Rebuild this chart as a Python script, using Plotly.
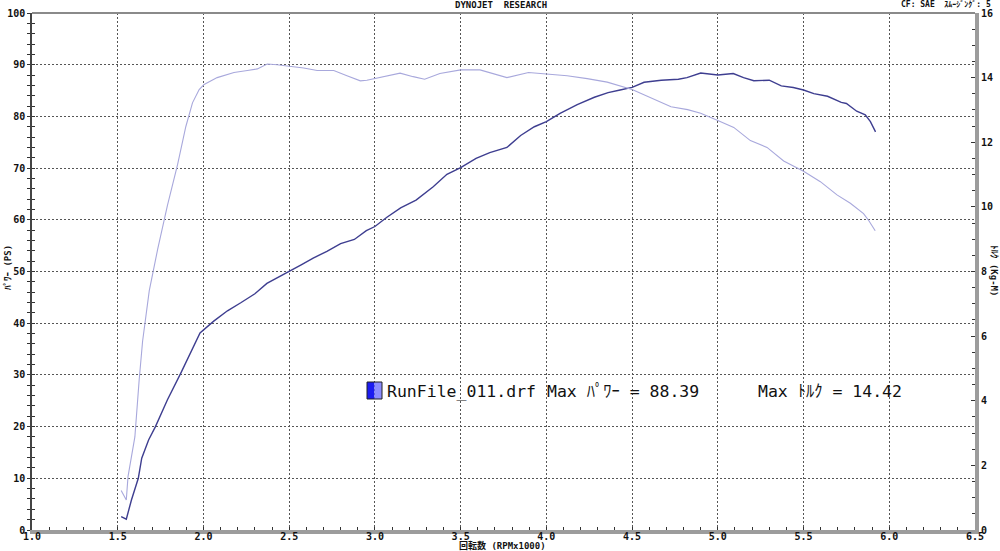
import plotly.graph_objects as go

# ---------------- data ----------------
rpm_power = [1.52, 1.55, 1.58, 1.62, 1.64, 1.68, 1.72, 1.79, 1.87, 1.93, 1.98, 2.06, 2.14, 2.22,
             2.30, 2.37, 2.45, 2.50, 2.57, 2.64, 2.72, 2.80, 2.88, 2.95, 3.00, 3.07, 3.15, 3.24,
             3.34, 3.42, 3.50, 3.59, 3.67, 3.77, 3.85, 3.93, 4.00, 4.08, 4.18, 4.28, 4.36, 4.43,
             4.50, 4.57, 4.67, 4.77, 4.82, 4.90, 5.00, 5.09, 5.15, 5.21, 5.30, 5.37, 5.44, 5.50,
             5.56, 5.64, 5.72, 5.75, 5.81, 5.86, 5.89, 5.92]
power_ps = [2.6, 2.1, 5.8, 10.0, 13.9, 17.4, 20.0, 25.2, 30.5, 34.5, 38.1, 40.4, 42.4, 44.0,
            45.7, 47.7, 49.1, 50.0, 51.3, 52.6, 53.9, 55.4, 56.2, 57.9, 58.7, 60.5, 62.3, 63.8,
            66.4, 68.8, 70.1, 71.9, 73.0, 74.0, 76.3, 78.0, 79.0, 80.6, 82.3, 83.7, 84.6, 85.1,
            85.6, 86.6, 87.0, 87.2, 87.5, 88.39, 88.0, 88.3, 87.5, 86.9, 87.0, 85.9, 85.6, 85.1,
            84.4, 83.9, 82.7, 82.5, 81.0, 80.3, 79.0, 77.0]

rpm_torque = [1.52, 1.55, 1.56, 1.58, 1.60, 1.625, 1.645, 1.684, 1.733, 1.79, 1.849, 1.897, 1.936,
              1.975, 2.004, 2.08, 2.178, 2.256, 2.314, 2.372, 2.43, 2.5, 2.585, 2.663, 2.76, 2.837,
              2.915, 2.953, 3.03, 3.147, 3.223, 3.29, 3.379, 3.5, 3.613, 3.69, 3.77, 3.896, 4.0,
              4.121, 4.238, 4.355, 4.5, 4.629, 4.727, 4.824, 4.9, 5.0, 5.093, 5.19, 5.287, 5.384,
              5.5, 5.598, 5.695, 5.773, 5.85, 5.88, 5.918]
torque_kgm = [1.22, 0.93, 1.65, 2.24, 2.88, 4.64, 5.84, 7.41, 8.69, 10.05, 11.31, 12.48, 13.22,
              13.63, 13.79, 14.00, 14.16, 14.22, 14.27, 14.42, 14.40, 14.35, 14.30, 14.22, 14.22,
              14.06, 13.90, 13.92, 14.00, 14.14, 14.03, 13.95, 14.13, 14.24, 14.24, 14.13, 14.00,
              14.16, 14.11, 14.06, 13.97, 13.86, 13.63, 13.33, 13.10, 13.01, 12.90, 12.67, 12.46,
              12.05, 11.84, 11.42, 11.10, 10.78, 10.37, 10.11, 9.79, 9.58, 9.26]

x_tick_vals = [1.0, 1.5, 2.0, 2.5, 3.0, 3.5, 4.0, 4.5, 5.0, 5.5, 6.0, 6.5]
run_name = "RunFile_011.drf"
max_power = 88.39
max_torque = 14.42

# ---------------- layout geometry (pixels) ----------------
W, H = 1000, 551
L, R, T, B = 32, 25, 13, 21
PW, PH = W - L - R, H - T - B


def px_x(px):
    return (px - L) / PW


def px_y(py):
    return (H - B - py) / PH


MONO = "DejaVu Sans Mono, Noto Sans CJK JP, monospace"
tickfont = dict(family=MONO, size=10, color="#111", weight="bold")

fig = go.Figure()
fig.add_trace(go.Scatter(x=rpm_torque, y=torque_kgm, yaxis="y2", mode="lines",
                         line=dict(color="#a8a8dc", width=1.1), showlegend=False,
                         hoverinfo="skip"))
fig.add_trace(go.Scatter(x=rpm_power, y=power_ps, yaxis="y", mode="lines",
                         line=dict(color="#3e3e90", width=1.4), showlegend=False,
                         hoverinfo="skip"))
fig.add_trace(go.Scatter(x=[None], y=[None], yaxis="y3", mode="lines", showlegend=False))

grid = dict(showgrid=True, gridcolor="#555", griddash="2px,2px", gridwidth=1)

fig.update_layout(
    template="none",
    width=W, height=H,
    margin=dict(l=L, r=R, t=T, b=B, pad=0, autoexpand=False),
    paper_bgcolor="white", plot_bgcolor="white",
    xaxis=dict(range=[1.0, 6.5], tickmode="array", tickvals=x_tick_vals, tickformat=".1f",
               **grid, zeroline=False, showline=True, linecolor="#9c9c9c", linewidth=4,
               ticks="inside", ticklen=3, tickcolor="#333", tickwidth=1,
               minor=dict(dtick=0.1, tick0=1.0, ticks="inside", ticklen=3, tickcolor="#333",
                          showgrid=False),
               tickfont=tickfont, ticklabelstandoff=-6, automargin=False, fixedrange=True),
    yaxis=dict(range=[0, 100], dtick=10, **grid, zeroline=False, showline=True,
               linecolor="#444", linewidth=1.5, ticks="outside", ticklen=3, tickcolor="#333",
               minor=dict(dtick=2, ticks="outside", ticklen=3, tickcolor="#333", showgrid=False),
               tickfont=tickfont, automargin=False),
    yaxis3=dict(range=[0, 100], overlaying="y", side="left", showgrid=False, zeroline=False,
                showticklabels=False, showline=False, ticks="inside", ticklen=3, dtick=10,
                tickcolor="#333", automargin=False,
                minor=dict(dtick=2, ticks="inside", ticklen=3, tickcolor="#333")),
    yaxis2=dict(range=[0, 16], dtick=2, overlaying="y", side="right", showgrid=False,
                zeroline=False, showline=True, linecolor="#9c9c9c", linewidth=4,
                ticks="inside", ticklen=4, tickcolor="#333", automargin=False,
                minor=dict(dtick=0.5, ticks="inside", ticklen=3, tickcolor="#333"),
                tickfont=tickfont),
    showlegend=False,
)

# top border
fig.add_shape(type="line", xref="paper", yref="paper", x0=0, x1=1, y0=1, y1=1,
              line=dict(color="#8a8a8a", width=2))

# legend swatch
fig.add_shape(type="rect", xref="paper", yref="paper", x0=px_x(367), x1=px_x(374.5),
              y0=px_y(399), y1=px_y(382), line=dict(width=0), fillcolor="#1c1cf0")
fig.add_shape(type="rect", xref="paper", yref="paper", x0=px_x(374.5), x1=px_x(382),
              y0=px_y(399), y1=px_y(382), line=dict(width=0), fillcolor="#8c8cff")
fig.add_shape(type="rect", xref="paper", yref="paper", x0=px_x(367), x1=px_x(382),
              y0=px_y(399), y1=px_y(382), line=dict(width=1, color="#222"))

small = dict(family=MONO, size=9, color="#111", weight="bold")
tiny = dict(family=MONO, size=8, color="#111", weight="bold")
big = dict(family=MONO, size=16.5, color="#111")

ann = [
    dict(text="DYNOJET  RESEARCH", x=px_x(501), y=px_y(5), font=small,
         xanchor="center", yanchor="middle"),
    dict(text="CF: SAE  ｽﾑｰｼﾞﾝｸﾞ: 5", x=px_x(992), y=px_y(4), font=tiny,
         xanchor="right", yanchor="middle"),
    dict(text="ﾊﾟﾜｰ (PS)", x=px_x(8), y=px_y(268), font=small, textangle=-90,
         xanchor="center", yanchor="middle"),
    dict(text="ﾄﾙｸ (Kg-M)", x=px_x(994), y=px_y(270), font=small, textangle=90,
         xanchor="center", yanchor="middle"),
    dict(text="回転数 (RPMx1000)", x=px_x(502), y=px_y(545), font=small,
         xanchor="center", yanchor="middle"),
    dict(text=run_name, x=px_x(386), y=px_y(391), font=big, xanchor="left", yanchor="middle"),
    dict(text=f"Max ﾊﾟﾜｰ = {max_power:.2f}", x=px_x(546), y=px_y(391), font=big,
         xanchor="left", yanchor="middle"),
    dict(text=f"Max ﾄﾙｸ = {max_torque:.2f}", x=px_x(757), y=px_y(391), font=big,
         xanchor="left", yanchor="middle"),
]
for a in ann:
    fig.add_annotation(xref="paper", yref="paper", showarrow=False, borderpad=0, **a)

fig.write_html("out.html", config={"displayModeBar": False},
               post_script="document.body.style.margin='0';document.body.style.overflow='hidden';")
